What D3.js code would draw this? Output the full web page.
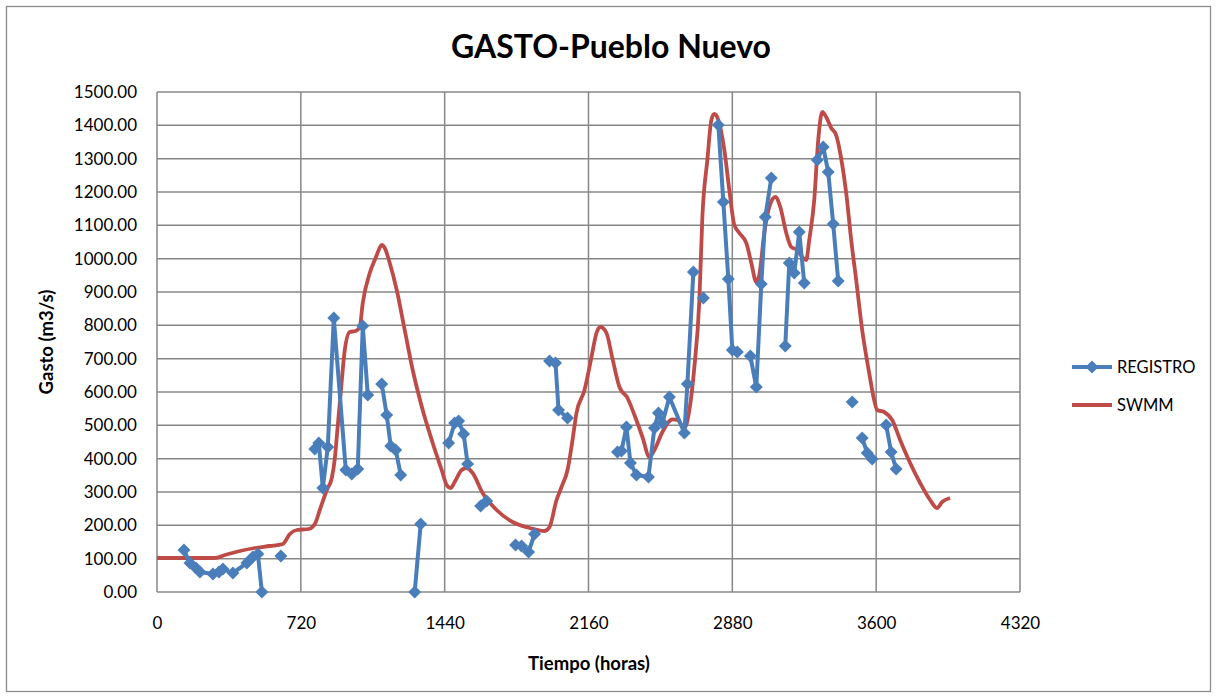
<!DOCTYPE html>
<html>
<head>
<meta charset="utf-8">
<script src="https://cdn.jsdelivr.net/npm/d3@7"></script>
<style>
  html, body { margin: 0; padding: 0; background: #fff; }
  svg { display: block; font-family: Lato, "Open Sans", sans-serif; }
</style>
</head>
<body>
<svg id="chart" width="1217" height="698"></svg>
<script>
// Measured discharge (REGISTRO): hours and m3/s, null marks a break in the record
const registroHours = [
  135, 165, 195, 215, 280, 310, 330, 380, 450, 480, 505, 525, null,
  620, null,
  790, 810, 830, 855, 885, 945, 975, 1005, 1030, 1055, null,
  1125, 1150, 1170, 1195, 1220, null,
  1290, 1320, null,
  1460, 1490, 1510, 1535, 1555, null,
  1620, 1650, null,
  1795, 1825, 1860, 1890, null,
  1965, 1995, 2010, 2055, null,
  2305, 2325, 2350, 2370, 2400, 2460, 2490, 2510, 2530, 2565, 2640, 2655, 2685, null,
  2735, null,
  2810, 2835, 2860, 2880, 2905, null,
  2970, 3000, 3025, 3045, 3075, null,
  3145, 3165, 3190, 3215, 3240, null,
  3305, 3335, 3360, 3385, 3410, null,
  3480, null,
  3530, 3555, 3580, null,
  3650, 3675, 3700
];
const registroValues = [
  126, 87, 72, 60, 54, 60, 69, 57, 87, 105, 114, 0, null,
  108, null,
  429, 447, 312, 435, 822, 366, 354, 369, 798, 591, null,
  624, 531, 438, 426, 351, null,
  0, 204, null,
  447, 507, 513, 474, 384, null,
  258, 273, null,
  141, 138, 120, 174, null,
  693, 687, 546, 522, null,
  420, 423, 495, 387, 351, 345, 492, 537, 507, 585, 477, 624, 960, null,
  882, null,
  1401, 1170, 939, 726, 720, null,
  708, 615, 924, 1125, 1242, null,
  738, 987, 957, 1080, 927, null,
  1296, 1335, 1260, 1104, 933, null,
  570, null,
  462, 417, 399, null,
  501, 420, 369
];

// Simulated discharge (SWMM)
const swmmHours = [
  0, 290, 340, 415, 490, 565, 630, 665, 700, 760, 790, 815, 850, 875, 890, 905, 920, 940, 965, 995,
  1015, 1030, 1065, 1090, 1100, 1125, 1140, 1165, 1200, 1240, 1280, 1330, 1380, 1425, 1450, 1470,
  1490, 1525, 1550, 1580, 1630, 1700, 1780, 1865, 1940, 1965, 2000, 2025, 2055, 2080, 2100, 2140,
  2175, 2200, 2220, 2250, 2280, 2315, 2355, 2390, 2430, 2465, 2490, 2530, 2580, 2605, 2640, 2665,
  2690, 2715, 2730, 2755, 2775, 2790, 2810, 2840, 2865, 2890, 2915, 2950, 2975, 3000, 3015, 3040,
  3065, 3095, 3120, 3150, 3175, 3205, 3230, 3250, 3265, 3290, 3310, 3330, 3350, 3375, 3400, 3425,
  3450, 3475, 3500, 3530, 3565, 3590, 3605, 3640, 3680, 3720, 3770, 3820, 3870, 3905, 3930, 3970
];
const swmmValues = [
  102, 102, 111, 123, 132, 138, 144, 174, 186, 189, 204, 246, 306, 342, 400, 500, 600, 726, 780, 783,
  795, 867, 957, 996, 1011, 1041, 1032, 987, 906, 786, 666, 546, 447, 366, 321, 312,
  330, 366, 372, 357, 297, 246, 210, 192, 183, 195, 276, 315, 366, 456, 537, 606,
  705, 777, 795, 777, 700, 615, 582, 531, 465, 405, 426, 480, 518, 516, 492, 546,
  675, 876, 1125, 1296, 1416, 1434, 1416, 1326, 1206, 1101, 1077, 1047, 987, 930, 951, 1077,
  1155, 1185, 1155, 1077, 1035, 1026, 1005, 996, 1056, 1176, 1356, 1440, 1425, 1392, 1370, 1300,
  1197, 1056, 936, 786, 657, 576, 546, 540, 516, 456, 387, 327, 276, 252, 270, 282
];

const xTicks = [0, 720, 1440, 2160, 2880, 3600, 4320];
const yTicks = [0, 100, 200, 300, 400, 500, 600, 700, 800, 900, 1000, 1100, 1200, 1300, 1400, 1500];
const seriesNames = ["REGISTRO", "SWMM"];
const seriesColors = ["#4A7EBB", "#BE4B48"];

const registro = registroHours.map((h, i) => ({ h, v: registroValues[i] }));
const swmm = swmmHours.map((h, i) => ({ h, v: swmmValues[i] }));

const svg = d3.select("#chart");
const plot = { left: 157, right: 1020, top: 92, bottom: 592 };

const x = d3.scaleLinear().domain([0, 4320]).range([plot.left, plot.right]);
const y = d3.scaleLinear().domain([0, 1500]).range([plot.bottom, plot.top]);

// outer chart frame
svg.append("rect")
  .attr("x", 6.5).attr("y", 6.5).attr("width", 1204).attr("height", 685)
  .attr("fill", "#fff").attr("stroke", "#8c8c8c").attr("stroke-width", 1.3);

// title
svg.append("text")
  .attr("x", 611).attr("y", 58)
  .attr("text-anchor", "middle")
  .attr("font-size", 32).attr("font-weight", "bold").attr("fill", "#000")
  .text("GASTO-Pueblo Nuevo");

// grid lines
const grid = svg.append("g").attr("stroke", "#878787").attr("stroke-width", 1.5);
grid.selectAll("line.h").data(yTicks).join("line")
  .attr("class", "h")
  .attr("x1", plot.left).attr("x2", plot.right)
  .attr("y1", d => y(d)).attr("y2", d => y(d));
grid.selectAll("line.v").data(xTicks).join("line")
  .attr("class", "v")
  .attr("y1", plot.top).attr("y2", plot.bottom)
  .attr("x1", d => x(d)).attr("x2", d => x(d));

// axes (labels only, grid carries the lines)
const yAxis = svg.append("g")
  .attr("transform", `translate(${plot.left},0)`)
  .call(d3.axisLeft(y).tickValues(yTicks).tickFormat(d3.format(".2f")).tickSize(0).tickPadding(20));
const xAxis = svg.append("g")
  .attr("transform", `translate(0,${plot.bottom})`)
  .call(d3.axisBottom(x).tickValues(xTicks).tickFormat(d3.format("d")).tickSize(0).tickPadding(25));
[yAxis, xAxis].forEach(a => {
  a.select(".domain").remove();
  a.selectAll("text").attr("font-size", 17).attr("fill", "#000").attr("font-family", "Lato, sans-serif");
});

// axis titles
svg.append("text")
  .attr("transform", `translate(53,${(plot.top + plot.bottom) / 2}) rotate(-90)`)
  .attr("text-anchor", "middle")
  .attr("font-size", 18.5).attr("font-weight", "bold")
  .text("Gasto (m3/s)");
svg.append("text")
  .attr("x", 589).attr("y", 670)
  .attr("text-anchor", "middle")
  .attr("font-size", 18.5).attr("font-weight", "bold")
  .text("Tiempo (horas)");

// SWMM smooth line
const swmmLine = d3.line()
  .x(d => x(d.h)).y(d => y(d.v))
  .curve(d3.curveMonotoneX);
svg.append("path")
  .datum(swmm)
  .attr("fill", "none")
  .attr("stroke", seriesColors[1])
  .attr("stroke-width", 3.8)
  .attr("stroke-linejoin", "round")
  .attr("d", swmmLine);

// REGISTRO line with diamond markers
const regLine = d3.line()
  .defined(d => d.h !== null && d.v !== null)
  .x(d => x(d.h)).y(d => y(d.v));
svg.append("path")
  .datum(registro)
  .attr("fill", "none")
  .attr("stroke", seriesColors[0])
  .attr("stroke-width", 4)
  .attr("stroke-linejoin", "round")
  .attr("d", regLine);

const squareDiamond = {
  draw(ctx, size) {
    const r = Math.sqrt(size / 2);
    ctx.moveTo(0, -r); ctx.lineTo(r, 0); ctx.lineTo(0, r); ctx.lineTo(-r, 0); ctx.closePath();
  }
};
const marker = d3.symbol().type(squareDiamond).size(84);
svg.append("g").selectAll("path")
  .data(registro.filter(d => d.h !== null && d.v !== null))
  .join("path")
  .attr("transform", d => `translate(${x(d.h)},${y(d.v)})`)
  .attr("d", marker)
  .attr("fill", seriesColors[0]);

// legend
const legend = svg.append("g");
const legendRows = [367, 405];
seriesNames.forEach((name, i) => {
  const ly = legendRows[i];
  legend.append("line")
    .attr("x1", 1072).attr("x2", 1112).attr("y1", ly).attr("y2", ly)
    .attr("stroke", seriesColors[i]).attr("stroke-width", i === 0 ? 4 : 3.8);
  if (i === 0) {
    legend.append("path")
      .attr("transform", `translate(1092,${ly})`)
      .attr("d", marker).attr("fill", seriesColors[0]);
  }
  legend.append("text")
    .attr("x", 1117).attr("y", ly + 6)
    .attr("font-size", 16.5).attr("fill", "#000")
    .text(name);
});
</script>
</body>
</html>
